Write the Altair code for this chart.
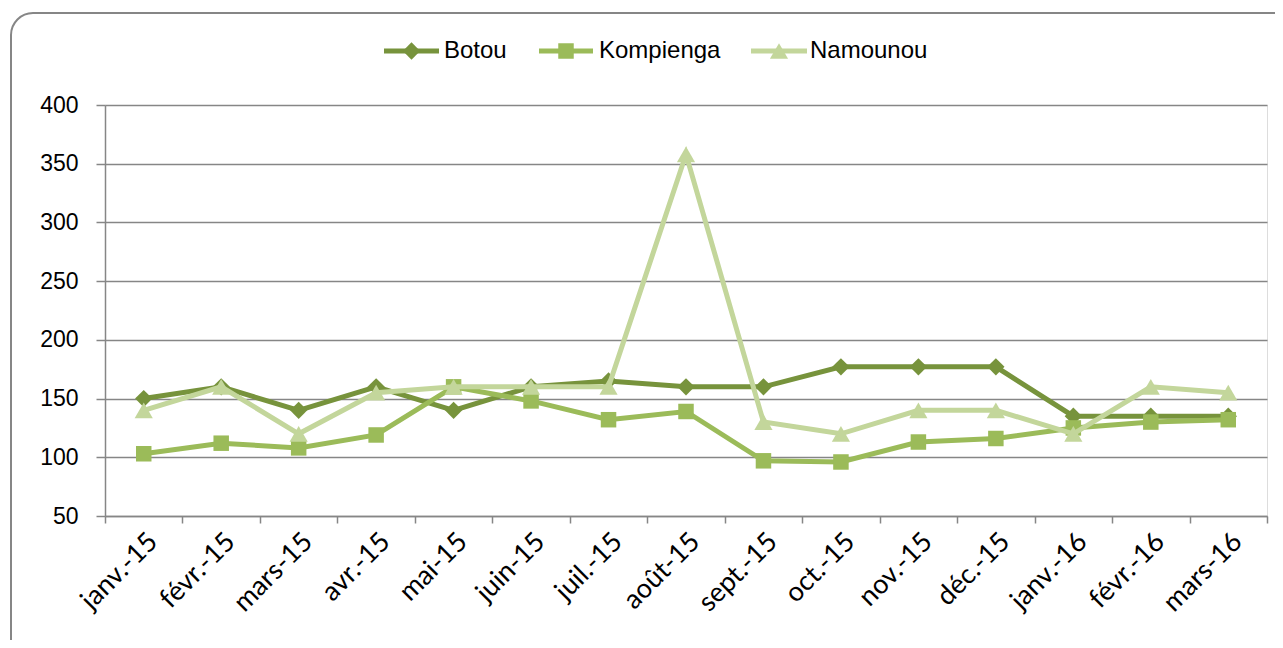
import altair as alt
import pandas as pd

months = ["janv.-15", "févr.-15", "mars-15", "avr.-15", "mai-15", "juin-15", "juil.-15",
          "août-15", "sept.-15", "oct.-15", "nov.-15", "déc.-15", "janv.-16", "févr.-16", "mars-16"]
series_names = ["Botou", "Kompienga", "Namounou"]
botou = [150, 160, 140, 160, 140, 160, 165, 160, 160, 177, 177, 177, 135, 135, 135]
kompienga = [103, 112, 108, 119, 160, 148, 132, 139, 97, 96, 113, 116, 125, 130, 132]
namounou = [140, 160, 120, 155, 160, 160, 160, 358, 130, 120, 140, 140, 120, 160, 155]
colors = ["#77933C", "#9BBB59", "#C3D69B"]
shapes = ["diamond", "square", "triangle-up"]
sizes = [300, 240, 330]

values = [botou, kompienga, namounou]
rows = []
for name, vals in zip(series_names, values):
    for m, v in zip(months, vals):
        rows.append({"mois": m, "serie": name, "valeur": v})
df = pd.DataFrame(rows)

W, H = 1162, 411
PADL, PADT = 97, 97

x_enc = alt.X("mois:N", sort=months, bandPosition=0.5,
              scale=alt.Scale(type="band", paddingInner=0, paddingOuter=0),
              axis=alt.Axis(title=None, labelAngle=-45, tickBand="extent", labelFont="Lato",
                            labelFontSize=27, labelColor="#000000", labelPadding=5,
                            tickSize=7, tickColor="#868686", tickWidth=1.5,
                            domainColor="#868686", domainWidth=1.5, grid=False))
y_enc = alt.Y("valeur:Q", scale=alt.Scale(domain=[50, 400], nice=False, zero=False),
              axis=alt.Axis(title=None, values=[50, 100, 150, 200, 250, 300, 350, 400],
                            labelFont="Liberation Sans", labelFontSize=23, labelColor="#000000",
                            labelPadding=18, tickSize=9, tickColor="#868686", tickWidth=1.5,
                            domainColor="#868686", domainWidth=1.5, gridColor="#868686",
                            gridWidth=1.5))

base = alt.Chart(df)
layers = []

for i, name in enumerate(series_names):
    sub = base.transform_filter(alt.datum.serie == name)
    layers.append(sub.mark_line(color=colors[i], strokeWidth=5).encode(x=x_enc, y=y_enc))
    layers.append(sub.mark_point(shape=shapes[i], filled=True, fill=colors[i], opacity=1,
                                 size=sizes[i]).encode(x=x_enc, y=y_enc))

one = pd.DataFrame({"a": [0]})

# frame
frame = alt.Chart(one).mark_rect(
    fill="transparent", stroke="#868686", strokeWidth=2, cornerRadius=22
).encode(x=alt.value(11 - 8 - PADL), x2=alt.value(1300 - 8 - PADL),
         y=alt.value(13 - 8 - PADT), y2=alt.value(662 - 8 - PADT))
layers.append(frame)

# legend
leg_line_x = [(384, 439), (539, 593), (751, 807)]
leg_text_x = [444, 599, 810]
leg_y = 51
for i, name in enumerate(series_names):
    x1, x2 = leg_line_x[i]
    layers.append(alt.Chart(one).mark_rule(color=colors[i], strokeWidth=5).encode(
        x=alt.value(x1 - 8 - PADL), x2=alt.value(x2 - 8 - PADL),
        y=alt.value(leg_y - 8 - PADT)))
    layers.append(alt.Chart(one).mark_point(shape=shapes[i], filled=True, fill=colors[i],
                                            opacity=1, size=sizes[i]).encode(
        x=alt.value((x1 + x2) / 2 - 8 - PADL), y=alt.value(leg_y - 8 - PADT)))
    layers.append(alt.Chart(one).mark_text(text=name, align="left", baseline="middle",
                                           font="Liberation Sans", fontSize=24,
                                           color="#000000").encode(
        x=alt.value(leg_text_x[i] - 8 - PADL), y=alt.value(leg_y - 8 - PADT)))

chart = alt.layer(*layers).properties(
    width=W, height=H,
    autosize=alt.AutoSizeParams(type="none"),
    padding={"left": PADL, "top": PADT, "right": 1283 - 16 - PADL - W, "bottom": 648 - 16 - PADT - H},
).configure_view(stroke=None).configure(background="#FFFFFF")

chart.save("out.html", embed_options={"renderer": "svg", "actions": False})
